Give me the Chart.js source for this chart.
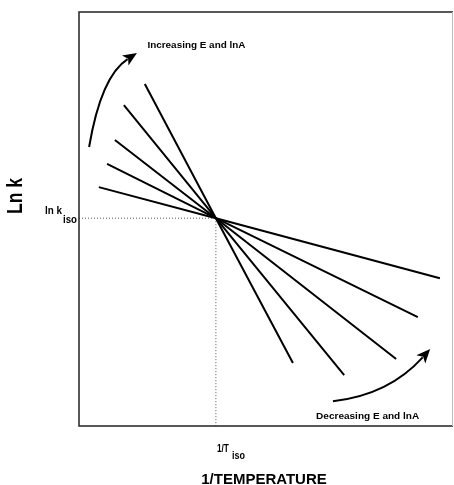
<!DOCTYPE html>
<html>
<head>
<meta charset="utf-8">
<script src="https://cdn.jsdelivr.net/npm/chart.js@4"></script>
<style>
  html, body { margin: 0; padding: 0; background: #fff; }
  #wrap { width: 454px; height: 485px; }
</style>
</head>
<body>
<div id="wrap"><canvas id="c" width="454" height="485"></canvas></div>
<script>
// ---- data (arbitrary units, 0..100 on both axes) ----
const xRange = [0, 100];
const yRange = [0, 100];
const isoX = 36.6;           // 1/T_iso
const isoY = 50.2;           // ln k_iso
const lineNames = ['Line 1', 'Line 2', 'Line 3', 'Line 4', 'Line 5'];
const leftX  = [17.6, 12.0,  9.6,  7.5,  5.3];
const leftY  = [82.6, 77.5, 69.1, 63.3, 57.7];
const rightX = [57.2, 70.9, 84.8, 90.6, 96.5];
const rightY = [15.2, 12.3, 16.2, 26.3, 35.7];
// curved arrows: start, control, tip (data units)
const arrowUpPts   = [[2.7, 67.4], [5.9, 84.5], [15.5, 90.1]];
const arrowDownPts = [[67.9, 6.0], [82.8, 7.5], [93.9, 18.6]];
const labelUp = 'Increasing E and lnA';
const labelDown = 'Decreasing E and lnA';
const yTitle = 'Ln k';
const xTitle = '1/TEMPERATURE';

const datasets = lineNames.map((n, i) => ({
  label: n,
  data: [{x: leftX[i], y: leftY[i]}, {x: isoX, y: isoY}, {x: rightX[i], y: rightY[i]}],
  borderColor: '#000', borderWidth: 2, pointRadius: 0, tension: 0, fill: false
}));
datasets.push({
  label: 'iso-h', data: [{x: xRange[0], y: isoY}, {x: isoX, y: isoY}],
  borderColor: '#555', borderWidth: 1, borderDash: [1, 2], pointRadius: 0
});
datasets.push({
  label: 'iso-v', data: [{x: isoX, y: isoY}, {x: isoX, y: yRange[0]}],
  borderColor: '#555', borderWidth: 1, borderDash: [1, 2], pointRadius: 0
});

function drawArrow(ctx, xs, ys, pts) {
  const P = pts.map(p => [xs.getPixelForValue(p[0]), ys.getPixelForValue(p[1])]);
  ctx.save();
  ctx.strokeStyle = '#000'; ctx.lineWidth = 2;
  const ang = Math.atan2(P[2][1] - P[1][1], P[2][0] - P[1][0]);
  const L = 14, W = 6;
  const bx = P[2][0] - Math.cos(ang) * L * 0.8, by = P[2][1] - Math.sin(ang) * L * 0.8;
  ctx.beginPath();
  ctx.moveTo(P[0][0], P[0][1]);
  ctx.quadraticCurveTo(P[1][0], P[1][1], bx, by);
  ctx.stroke();
  ctx.fillStyle = '#000';
  ctx.beginPath();
  ctx.moveTo(P[2][0], P[2][1]);
  ctx.lineTo(P[2][0] - Math.cos(ang) * L - Math.sin(ang) * W, P[2][1] - Math.sin(ang) * L + Math.cos(ang) * W);
  ctx.lineTo(P[2][0] - Math.cos(ang) * L * 0.75, P[2][1] - Math.sin(ang) * L * 0.75);
  ctx.lineTo(P[2][0] - Math.cos(ang) * L + Math.sin(ang) * W, P[2][1] - Math.sin(ang) * L - Math.cos(ang) * W);
  ctx.closePath();
  ctx.fill();
  ctx.restore();
}

function fitText(ctx, txt, x, y, width) {
  ctx.save();
  ctx.translate(x, y);
  ctx.scale(width / ctx.measureText(txt).width, 1);
  ctx.fillText(txt, 0, 0);
  ctx.restore();
}

const decor = {
  id: 'decor',
  afterDraw(chart) {
    const ctx = chart.ctx, a = chart.chartArea;
    const xs = chart.scales.x, ys = chart.scales.y;
    ctx.save();
    // frame
    ctx.strokeStyle = '#222'; ctx.lineWidth = 1.5;
    ctx.beginPath();
    ctx.moveTo(a.right, a.top); ctx.lineTo(a.left, a.top);
    ctx.lineTo(a.left, a.bottom); ctx.lineTo(a.right, a.bottom);
    ctx.stroke();
    ctx.strokeStyle = '#bbb'; ctx.lineWidth = 1;
    ctx.beginPath(); ctx.moveTo(a.right - 0.5, a.top); ctx.lineTo(a.right - 0.5, a.bottom); ctx.stroke();

    ctx.fillStyle = '#000';
    ctx.textBaseline = 'alphabetic';
    ctx.textAlign = 'left';
    const px = xs.getPixelForValue(isoX), py = ys.getPixelForValue(isoY);
    // ln k_iso
    ctx.font = 'bold 10px "Liberation Sans", Arial, sans-serif';
    fitText(ctx, 'ln k', a.left - 34, py - 4, 17);
    ctx.font = 'bold 10px "Liberation Sans", Arial, sans-serif';
    fitText(ctx, 'iso', a.left - 16, py + 5, 14);
    // 1/T_iso
    ctx.font = 'bold 11px "Liberation Sans", Arial, sans-serif';
    fitText(ctx, '1/T', px + 1, a.bottom + 26, 12);
    ctx.font = 'bold 10px "Liberation Sans", Arial, sans-serif';
    fitText(ctx, 'iso', px + 16, a.bottom + 33, 13);

    // annotations
    ctx.font = 'bold 9px "Liberation Sans", Arial, sans-serif';
    fitText(ctx, labelUp, xs.getPixelForValue(18.3), ys.getPixelForValue(91.3), 98);
    fitText(ctx, labelDown, xs.getPixelForValue(63.4), ys.getPixelForValue(1.8), 103);

    // axis titles
    ctx.font = 'bold 15px "Liberation Sans", Arial, sans-serif';
    ctx.textAlign = 'center';
    ctx.fillText(xTitle, (a.left + a.right) / 2 - 2, 484);
    ctx.save();
    ctx.translate(22, 196);
    ctx.rotate(-Math.PI / 2);
    ctx.font = 'bold 22px "Liberation Sans", Arial, sans-serif';
    const w = ctx.measureText(yTitle).width;
    ctx.scale(36 / w, 1);
    ctx.fillText(yTitle, 0, 0);
    ctx.restore();

    drawArrow(ctx, xs, ys, arrowUpPts);
    drawArrow(ctx, xs, ys, arrowDownPts);
    ctx.restore();
  }
};

new Chart(document.getElementById('c'), {
  type: 'line',
  data: { datasets },
  options: {
    responsive: false,
    animation: false,
    layout: { padding: { left: 79, top: 12, right: 1, bottom: 59 } },
    plugins: { legend: { display: false }, tooltip: { enabled: false } },
    scales: {
      x: { type: 'linear', min: xRange[0], max: xRange[1], display: false },
      y: { type: 'linear', min: yRange[0], max: yRange[1], display: false }
    }
  },
  plugins: [decor]
});
</script>
</body>
</html>
